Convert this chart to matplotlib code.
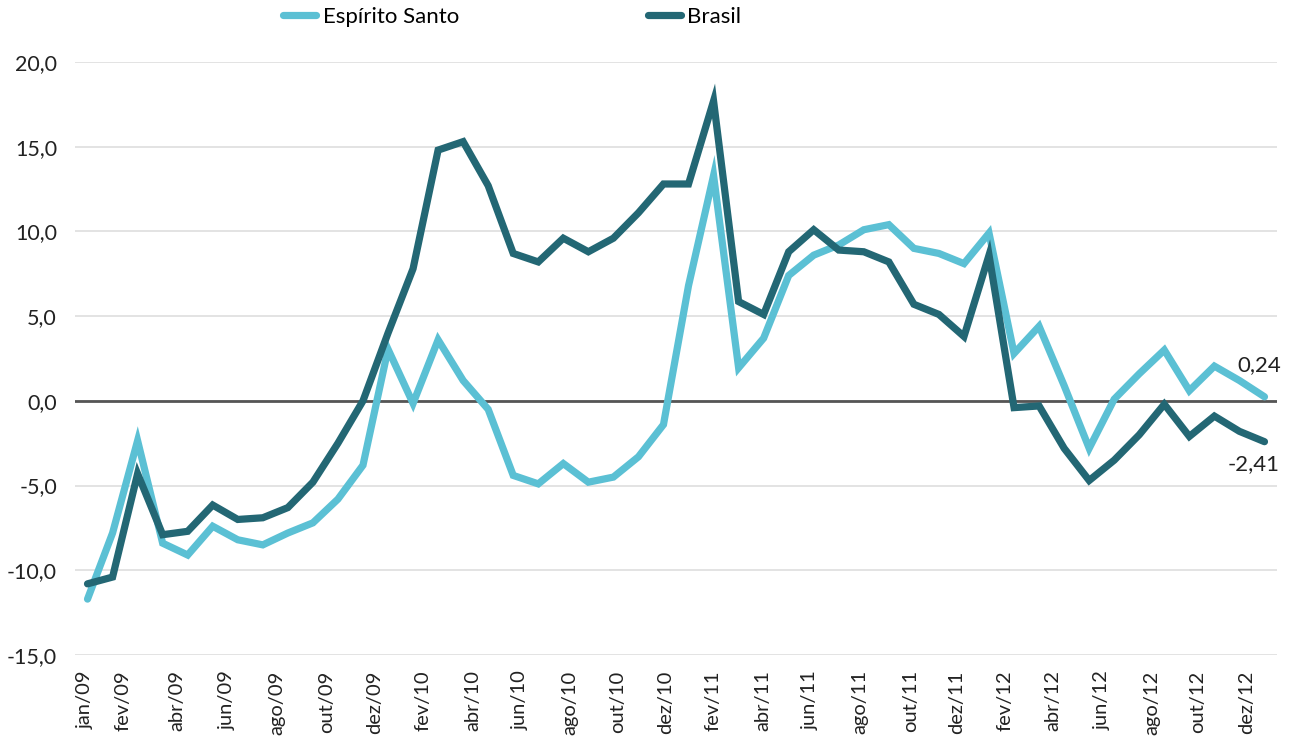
import matplotlib
matplotlib.use("Agg")
import matplotlib.pyplot as plt
from matplotlib.ticker import FuncFormatter

plt.rcParams['font.family'] = ['Lato', 'DejaVu Sans']

# Monthly series jan/09 .. dez/12 (48 months)
espirito_santo = [
    -11.7, -7.8, -2.35, -8.4, -9.1, -7.4, -8.2, -8.5, -7.8, -7.2, -5.8, -3.8,
    3.05, -0.15, 3.6, 1.2, -0.5, -4.4, -4.9, -3.7, -4.8, -4.5, -3.3, -1.4,
    6.8, 13.3, 1.95, 3.7, 7.4, 8.6, 9.2, 10.1, 10.4, 9.0, 8.7, 8.1,
    9.9, 2.8, 4.4, 0.9, -2.8, 0.1, 1.6, 3.0, 0.6, 2.05, 1.2, 0.24,
]
brasil = [
    -10.8, -10.4, -4.3, -7.9, -7.7, -6.15, -7.0, -6.9, -6.3, -4.8, -2.5, 0.0,
    4.0, 7.8, 14.8, 15.3, 12.7, 8.7, 8.2, 9.6, 8.8, 9.6, 11.1, 12.8,
    12.8, 17.7, 5.86, 5.1, 8.8, 10.1, 8.9, 8.8, 8.2, 5.7, 5.1, 3.8,
    8.6, -0.4, -0.3, -2.8, -4.7, -3.5, -2.0, -0.2, -2.1, -0.9, -1.8, -2.41,
]
tick_labels = ['jan/09', 'fev/09', 'abr/09', 'jun/09', 'ago/09', 'out/09', 'dez/09',
               'fev/10', 'abr/10', 'jun/10', 'ago/10', 'out/10', 'dez/10',
               'fev/11', 'abr/11', 'jun/11', 'ago/11', 'out/11', 'dez/11',
               'fev/12', 'abr/12', 'jun/12', 'ago/12', 'out/12', 'dez/12']
tick_pos = [-0.1, 1.42, 3.57, 5.57, 7.57, 9.56, 11.48, 13.39, 15.39, 17.27, 19.27,
            21.15, 23.07, 24.98, 26.98, 28.85, 30.85, 32.85, 34.72, 36.64, 38.56,
            40.51, 42.51, 44.35, 46.30]
series_names = ['Espírito Santo', 'Brasil']

c_es = '#5bc0d4'
c_br = '#236774'

W, H = 1291, 742
fig = plt.figure(figsize=(W / 100, H / 100), dpi=100)
ax = fig.add_axes([75 / W, 1 - 655 / H, (1277 - 75) / W, (655 - 62) / H])

x = list(range(len(brasil)))
l1, = ax.plot(x, espirito_santo, color=c_es, lw=5.2, solid_joinstyle='miter',
              solid_capstyle='round', label=series_names[0], zorder=3)
l2, = ax.plot(x, brasil, color=c_br, lw=5.2, solid_joinstyle='miter',
              solid_capstyle='round', label=series_names[1], zorder=4)

ax.axhline(0, color='#555555', lw=2.0, zorder=2)

ax.set_xlim(-0.5, len(brasil) - 0.5)
ax.set_ylim(-15, 20)
ax.set_yticks([-15, -10, -5, 0, 5, 10, 15, 20])
ax.yaxis.set_major_formatter(FuncFormatter(lambda v, p: f"{v:.1f}".replace('.', ',')))
ax.grid(axis='y', color='#e3e3e3', lw=1.4, zorder=0)
ax.set_axisbelow(True)
for s in ax.spines.values():
    s.set_visible(False)

ax.set_xticks(tick_pos)
ax.set_xticklabels(tick_labels, rotation=90, ha='center', va='top')
ax.tick_params(axis='x', length=0, pad=11, labelsize=14.5, colors='#222222')
ax.tick_params(axis='y', length=0, pad=13, labelsize=15.5, colors='#222222')

# end-value labels
ax.annotate(f"{espirito_santo[-1]:.2f}".replace('.', ','), (x[-1], espirito_santo[-1]),
            xytext=(-4, 23), textcoords='offset points', ha='center', va='center',
            fontsize=16, color='#222222')
ax.annotate(f"{brasil[-1]:.2f}".replace('.', ','), (x[-1], brasil[-1]),
            xytext=(-8, -16), textcoords='offset points', ha='center', va='center',
            fontsize=16, color='#222222')

fig.legend(handles=[l1, l2], loc='center left', bbox_to_anchor=(283 / W, 1 - 17 / H),
           ncol=2, frameon=False, fontsize=16, handlelength=1.5, handletextpad=0.28,
           columnspacing=8.5, borderpad=0, borderaxespad=0)

fig.savefig('out.png', dpi=100)
